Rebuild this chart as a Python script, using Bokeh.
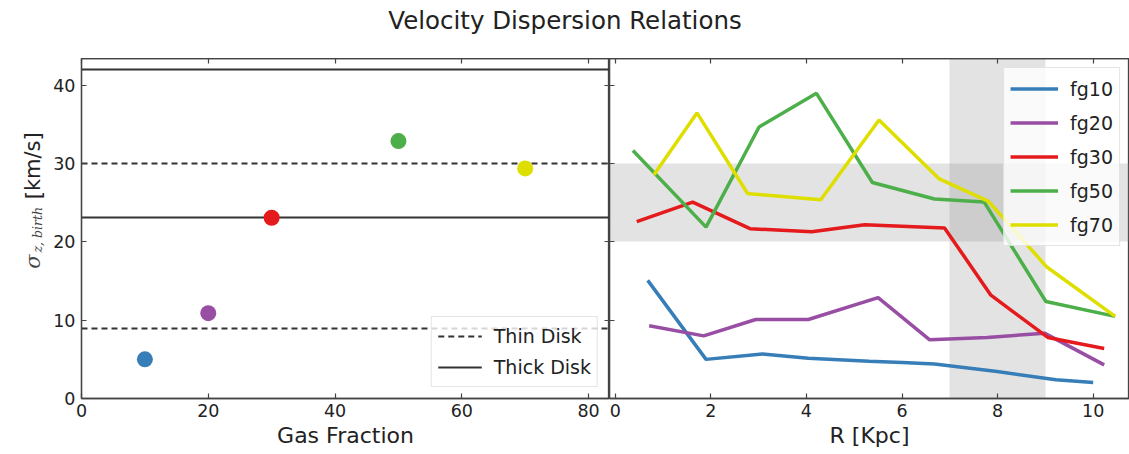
from bokeh.plotting import figure
from bokeh.layouts import column, row
from bokeh.models import Range1d, FixedTicker, LinearAxis, Legend
from bokeh.core.properties import value
from bokeh.embed import file_html
from bokeh.resources import INLINE

# ---------------- data ----------------
gas_fraction = [10, 20, 30, 50, 70]
sigma_birth = [5.0, 10.9, 23.1, 32.9, 29.4]
series_names = ["fg10", "fg20", "fg30", "fg50", "fg70"]

thin_disk = [9.0, 30.0]
thick_disk = [23.1, 42.0]

sigma_band = [20.0, 30.0]
r_band = [7.0, 9.0]

r_fg10 = [0.68, 1.90, 3.08, 4.04, 5.31, 6.01, 6.68, 7.99, 9.22, 10.0]
s_fg10 = [15.1, 5.0, 5.7, 5.15, 4.75, 4.6, 4.4, 3.45, 2.4, 2.05]

r_fg20 = [0.71, 1.85, 2.94, 4.04, 5.50, 6.58, 7.78, 8.98, 10.23]
s_fg20 = [9.3, 8.0, 10.1, 10.1, 12.9, 7.5, 7.8, 8.35, 4.3]

r_fg30 = [0.45, 1.62, 2.82, 4.11, 5.22, 6.89, 7.86, 9.05, 10.23]
s_fg30 = [22.6, 25.1, 21.7, 21.3, 22.2, 21.8, 13.2, 7.8, 6.4]

r_fg50 = [0.37, 1.90, 3.01, 4.21, 5.38, 6.68, 7.72, 9.01, 10.46]
s_fg50 = [31.7, 21.9, 34.7, 39.0, 27.6, 25.5, 25.1, 12.4, 10.5]

r_fg70 = [0.81, 1.71, 2.77, 4.30, 5.52, 6.77, 7.81, 9.03, 10.46]
s_fg70 = [28.6, 36.5, 26.2, 25.4, 35.6, 28.1, 25.2, 16.8, 10.5]

gas_ticks = [0, 20, 40, 60, 80]
sigma_ticks = [0, 10, 20, 30, 40]
r_ticks = [0, 2, 4, 6, 8, 10]

colors = ["#377eb8", "#984ea3", "#e41a1c", "#4daf4a", "#dede00"]

FONT = "DejaVu Sans"
AX = "#444444"
TXT = "#222222"

y_range = Range1d(0, 43.45)


def style_axis(ax, ticks, labels=True):
    ax.ticker = FixedTicker(ticks=ticks)
    ax.axis_line_color = AX
    ax.axis_line_width = 1.3
    ax.major_tick_line_color = AX
    ax.major_tick_line_width = 1.2
    ax.major_tick_in = 5
    ax.major_tick_out = 0
    ax.minor_tick_in = 0
    ax.minor_tick_out = 0
    ax.major_label_text_font = FONT
    ax.major_label_text_color = TXT
    if labels:
        ax.major_label_text_font_size = "17.5px"
        ax.major_label_standoff = 5
    else:
        ax.major_label_text_font_size = "1px"
        ax.major_label_text_alpha = 0
        ax.major_label_standoff = 0
    ax.axis_label_text_font = FONT
    ax.axis_label_text_font_style = "normal"
    ax.axis_label_text_font_size = "22px"
    ax.axis_label_text_color = TXT
    ax.axis_label_standoff = 3


def bare(fig):
    fig.outline_line_color = None
    fig.grid.visible = False


# ---------------- title strip ----------------
top = figure(width=1129, height=58, x_range=Range1d(0, 1), y_range=Range1d(0, 1),
             output_backend="svg", toolbar_location=None,
             x_axis_location=None, y_axis_location=None, min_border=0)
bare(top)
top.text(x=[0.5], y=[0.655], text=["Velocity Dispersion Relations"],
         text_font=value(FONT), text_font_size="24.5px", text_color=TXT,
         text_align="center", text_baseline="middle")

# ---------------- y-axis title strip (sigma_{z,birth} [km/s]) ----------------
ylab = figure(width=45, height=396, x_range=Range1d(0, 45), y_range=Range1d(0, 396),
              output_backend="svg", toolbar_location=None,
              x_axis_location=None, y_axis_location=None, min_border=0)
bare(ylab)
ylab.text(x=[32], y=[151], text=["σ"], angle=1.5708,
          text_font=value("DejaVu Serif"), text_font_style="italic",
          text_font_size="21px", text_color="#444444",
          text_align="left", text_baseline="alphabetic")
ylab.text(x=[37], y=[170], text=["z, birth"], angle=1.5708,
          text_font=value("DejaVu Serif"), text_font_style="italic",
          text_font_size="12.5px", text_color="#444444",
          text_align="left", text_baseline="alphabetic")
ylab.text(x=[33], y=[232], text=["[km/s]"], angle=1.5708,
          text_font=value(FONT), text_font_size="21px", text_color=TXT,
          text_align="left", text_baseline="alphabetic")

# ---------------- left panel ----------------
p1 = figure(width=564, height=396, x_range=Range1d(0, 83.3), y_range=y_range,
            output_backend="svg", toolbar_location=None,
            min_border_left=36, min_border_right=0, min_border_top=0, min_border_bottom=56)
p1.grid.visible = False
p1.outline_line_color = AX
p1.outline_line_width = 1.3
style_axis(p1.xaxis[0], gas_ticks)
style_axis(p1.yaxis[0], sigma_ticks)
p1.yaxis[0].major_label_standoff = 6
p1.xaxis.axis_label = "Gas Fraction"
ax_top1 = LinearAxis()
style_axis(ax_top1, gas_ticks, labels=False)
p1.add_layout(ax_top1, "above")
ax_right1 = LinearAxis()
style_axis(ax_right1, sigma_ticks, labels=False)
p1.add_layout(ax_right1, "right")

thin_r = p1.hspan(y=thin_disk, line_color="#333333", line_width=2, line_dash="6 4")
thick_r = p1.hspan(y=thick_disk, line_color="#333333", line_width=2)

p1.scatter(x=gas_fraction, y=sigma_birth, size=16, color=colors, line_color=None)

leg1 = Legend(items=[("Thin Disk", [thin_r]), ("Thick Disk", [thick_r])],
              location="bottom_right")
leg1.margin = 11
leg1.padding = 6
leg1.spacing = 5
leg1.glyph_width = 44
leg1.glyph_height = 26
leg1.label_height = 26
leg1.label_standoff = 12
leg1.label_text_font = FONT
leg1.label_text_font_size = "19px"
leg1.label_text_color = TXT
leg1.background_fill_alpha = 0.8
leg1.border_line_color = "#cccccc"
leg1.border_line_width = 1
p1.add_layout(leg1)

# ---------------- right panel ----------------
p2 = figure(width=520, height=396, x_range=Range1d(-0.12, 10.76), y_range=y_range,
            output_backend="svg", toolbar_location=None,
            min_border_left=0, min_border_right=0, min_border_top=0, min_border_bottom=56,
            y_axis_location=None)
p2.grid.visible = False
p2.outline_line_color = AX
p2.outline_line_width = 1.3
style_axis(p2.xaxis[0], r_ticks)
p2.xaxis.axis_label = "R [Kpc]"
ax_left2 = LinearAxis()
style_axis(ax_left2, sigma_ticks, labels=False)
p2.add_layout(ax_left2, "left")
ax_top2 = LinearAxis()
style_axis(ax_top2, r_ticks, labels=False)
p2.add_layout(ax_top2, "above")

p2.hstrip(y0=[sigma_band[0]], y1=[sigma_band[1]], fill_color="gray", fill_alpha=0.22, line_color=None)
p2.vstrip(x0=[r_band[0]], x1=[r_band[1]], fill_color="gray", fill_alpha=0.22, line_color=None)

series_r = [r_fg10, r_fg20, r_fg30, r_fg50, r_fg70]
series_s = [s_fg10, s_fg20, s_fg30, s_fg50, s_fg70]
items = []
for name, rr, ss, c in zip(series_names, series_r, series_s, colors):
    rend = p2.line(rr, ss, line_color=c, line_width=3.5)
    items.append((name, [rend]))

leg2 = Legend(items=items, location="top_right")
leg2.margin = 9
leg2.padding = 6
leg2.spacing = 5
leg2.glyph_width = 48
leg2.glyph_height = 29
leg2.label_height = 29
leg2.label_standoff = 12
leg2.label_text_font = FONT
leg2.label_text_font_size = "19px"
leg2.label_text_color = TXT
leg2.background_fill_alpha = 0.8
leg2.border_line_color = "#cccccc"
p2.add_layout(leg2)

layout = column(top, row(ylab, p1, p2))
open("out.html", "w").write(file_html(layout, INLINE))
